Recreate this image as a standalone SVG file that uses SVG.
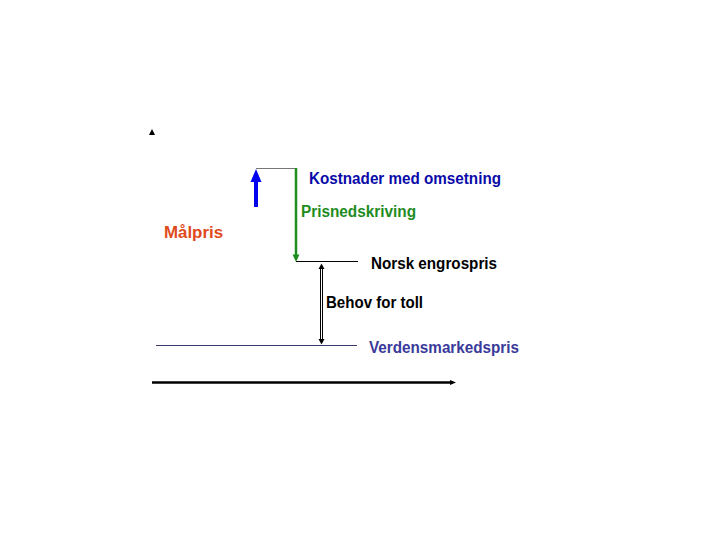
<svg xmlns="http://www.w3.org/2000/svg" width="720" height="540" viewBox="0 0 720 540">
<style>
text{font-family:"Liberation Sans",Arial,sans-serif;font-weight:bold;font-size:16px;}
</style>
<rect width="720" height="540" fill="#fff"/>
<g id="connectors">
  <path d="M149,135L152,129L155,135z" fill="#000"/>
  <line x1="256" y1="168.5" x2="296" y2="168.5" stroke="#777" stroke-width="1.2"/>
  <line x1="256" y1="207" x2="256" y2="178" stroke="#0000ee" stroke-width="4"/>
  <path d="M250.5,182L256,169L261.5,182z" fill="#0000ee"/>
  <line x1="296" y1="168" x2="296" y2="256" stroke="#1e8c1e" stroke-width="2.5"/>
  <path d="M292.5,254.5L296,262L299.5,254.5z" fill="#1e8c1e"/>
  <line x1="296" y1="261.5" x2="358" y2="261.5" stroke="#000" stroke-width="1"/>
  <line x1="320.5" y1="268" x2="320.5" y2="340" stroke="#000" stroke-width="1"/>
  <line x1="322.5" y1="268" x2="322.5" y2="340" stroke="#000" stroke-width="1"/>
  <path d="M318.5,269L321.5,263.5L324.5,269z" fill="#000"/>
  <path d="M318.5,339L321.5,344.5L324.5,339z" fill="#000"/>
  <line x1="156" y1="345.5" x2="357" y2="345.5" stroke="#3a3a70" stroke-width="1"/>
  <line x1="152" y1="382.5" x2="452" y2="382.5" stroke="#000" stroke-width="2.5"/>
  <path d="M450,380L456,382.5L450,385z" fill="#000"/>
</g>
<g id="kostnader"><text x="309" y="183.5" fill="#0a0aa8" textLength="192" lengthAdjust="spacingAndGlyphs">Kostnader med omsetning</text></g>
<g id="prisnedskriving"><text x="301" y="216.5" fill="#1e8c1e" textLength="115" lengthAdjust="spacingAndGlyphs">Prisnedskriving</text></g>
<g id="malpris"><text x="164" y="237.5" fill="#e04a1c" textLength="59" lengthAdjust="spacingAndGlyphs">Målpris</text></g>
<g id="norsk"><text x="371" y="268.5" fill="#000" textLength="126" lengthAdjust="spacingAndGlyphs">Norsk engrospris</text></g>
<g id="behov"><text x="326" y="307.5" fill="#000" textLength="97" lengthAdjust="spacingAndGlyphs">Behov for toll</text></g>
<g id="verdens"><text x="369" y="352.5" fill="#3a3a9a" textLength="150" lengthAdjust="spacingAndGlyphs">Verdensmarkedspris</text></g>
</svg>
